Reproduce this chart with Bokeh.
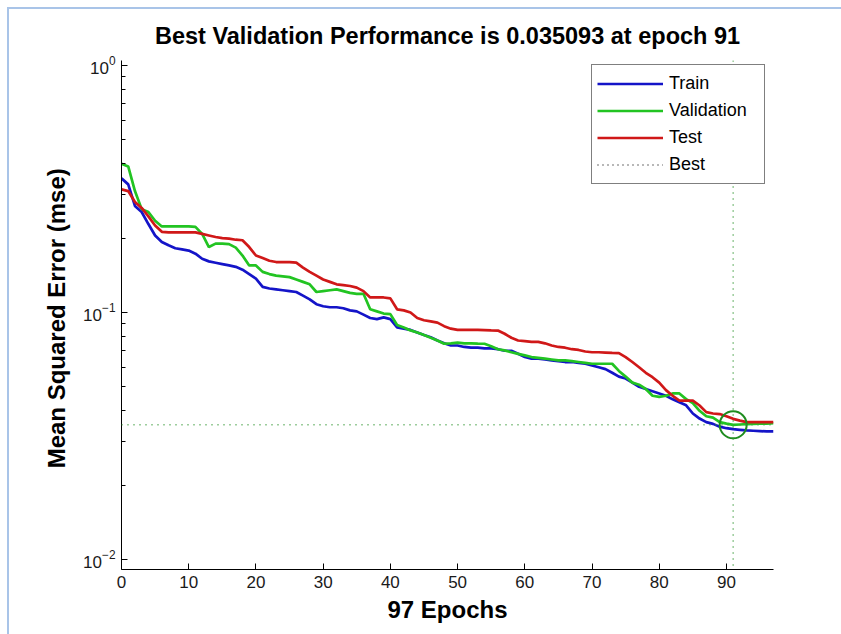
from bokeh.plotting import figure
from bokeh.models import (Range1d, FixedTicker, LogTickFormatter, Span, Legend,
                          LegendItem, InlineStyleSheet)
from bokeh.embed import file_html
from bokeh.resources import INLINE

# ---------------- data ----------------
epochs = list(range(98))
train = [0.349, 0.33, 0.27, 0.255, 0.228, 0.205, 0.193, 0.187, 0.182, 0.180,
         0.178, 0.173, 0.165, 0.161, 0.159, 0.157, 0.155, 0.153, 0.149, 0.143,
         0.137, 0.127, 0.125, 0.124, 0.123, 0.122, 0.121, 0.117, 0.113, 0.108,
         0.106, 0.105, 0.105, 0.104, 0.102, 0.101, 0.098, 0.095, 0.094, 0.0955,
         0.094, 0.087, 0.086, 0.085, 0.083, 0.081, 0.0794, 0.077, 0.075, 0.0735,
         0.0735, 0.0725, 0.072, 0.072, 0.0715, 0.0715, 0.071, 0.070, 0.070, 0.068,
         0.066, 0.065, 0.065, 0.0645, 0.064, 0.0635, 0.063, 0.063, 0.0625, 0.062,
         0.061, 0.060, 0.059, 0.057, 0.055, 0.054, 0.052, 0.050, 0.049, 0.048,
         0.047, 0.046, 0.0445, 0.0433, 0.0421, 0.039, 0.0372, 0.036, 0.0354, 0.0345,
         0.034, 0.0337, 0.0335, 0.0333, 0.0332, 0.0331, 0.033, 0.033]
validation = [0.40, 0.39, 0.31, 0.262, 0.255, 0.235, 0.223, 0.223, 0.223, 0.223,
              0.223, 0.222, 0.208, 0.184, 0.190, 0.190, 0.189, 0.183, 0.170, 0.155,
              0.155, 0.146, 0.143, 0.141, 0.140, 0.139, 0.136, 0.133, 0.130, 0.121,
              0.122, 0.123, 0.124, 0.122, 0.120, 0.119, 0.119, 0.103, 0.101, 0.099,
              0.0985, 0.089, 0.087, 0.0846, 0.083, 0.081, 0.079, 0.077, 0.0747, 0.075,
              0.0755, 0.075, 0.075, 0.0748, 0.0747, 0.073, 0.071, 0.0702, 0.069, 0.068,
              0.067, 0.066, 0.0655, 0.065, 0.0645, 0.064, 0.064, 0.0635, 0.063, 0.0625,
              0.062, 0.062, 0.062, 0.062, 0.058, 0.055, 0.052, 0.051, 0.049, 0.046,
              0.0455, 0.046, 0.047, 0.047, 0.0446, 0.043, 0.040, 0.038, 0.0375, 0.036,
              0.0355, 0.035093, 0.0352, 0.0353, 0.0354, 0.0355, 0.0355, 0.0356]
test = [0.315, 0.31, 0.28, 0.265, 0.245, 0.225, 0.212, 0.211, 0.211, 0.211,
        0.211, 0.211, 0.208, 0.205, 0.202, 0.200, 0.199, 0.197, 0.196, 0.184,
        0.170, 0.166, 0.162, 0.160, 0.160, 0.160, 0.159, 0.152, 0.146, 0.141,
        0.136, 0.133, 0.130, 0.129, 0.128, 0.126, 0.122, 0.115, 0.115, 0.115,
        0.114, 0.103, 0.102, 0.100, 0.095, 0.093, 0.092, 0.091, 0.088, 0.086,
        0.085, 0.085, 0.085, 0.085, 0.0848, 0.0846, 0.0845, 0.082, 0.079, 0.077,
        0.0765, 0.076, 0.076, 0.075, 0.0735, 0.0725, 0.072, 0.071, 0.0705, 0.0695,
        0.069, 0.069, 0.0688, 0.0686, 0.0685, 0.066, 0.063, 0.060, 0.057, 0.0547,
        0.052, 0.0485, 0.046, 0.044, 0.044, 0.044, 0.042, 0.0395, 0.039, 0.0388,
        0.038, 0.0371, 0.0365, 0.036, 0.036, 0.036, 0.036, 0.036]
best_epoch = 91
best_perf = 0.035093
x_ticks = [0, 10, 20, 30, 40, 50, 60, 70, 80, 90]
y_ticks = [0.01, 0.1, 1.0]
y_minor = [m * d for d in (0.01, 0.1) for m in range(2, 10)]
title_text = "Best Validation Performance is 0.035093 at epoch 91"
x_label = "97 Epochs"
y_label = "Mean Squared Error  (mse)"

FONT = "Liberation Sans"

p = figure(width=841, height=634, y_axis_type="log",
           x_range=Range1d(0, 97), y_range=Range1d(0.00911, 1.047),
           output_backend="svg", toolbar_location=None,
           min_border_left=121, min_border_right=68,
           min_border_top=60, min_border_bottom=65)

p.stylesheets = [InlineStyleSheet(css="""
:host {
  background-color: white;
  background-image: linear-gradient(#a9c4e8, #a9c4e8), linear-gradient(#a9c4e8, #a9c4e8);
  background-size: 2px 100%, 100% 2px;
  background-position: 7px 7px, 7px 7px;
  background-repeat: no-repeat;
}
""")]
p.border_fill_color = None
p.background_fill_color = "white"
p.outline_line_color = None
p.grid.visible = False

p.title.text = title_text
p.title.align = "center"
p.title.text_font = FONT
p.title.text_font_style = "bold"
p.title.text_font_size = "23.5px"
p.title.text_color = "black"
p.title.standoff = 24

# axes
p.xaxis.ticker = FixedTicker(ticks=x_ticks)
p.yaxis.ticker = FixedTicker(ticks=y_ticks, minor_ticks=y_minor)
p.yaxis.formatter = LogTickFormatter()
for ax in (p.xaxis[0], p.yaxis[0]):
    ax.axis_line_color = "black"
    ax.major_tick_line_color = "black"
    ax.minor_tick_line_color = "black"
    ax.major_tick_in = 6
    ax.major_tick_out = 0
    ax.minor_tick_in = 4
    ax.minor_tick_out = 0
    ax.major_label_text_font = FONT
    ax.major_label_text_font_size = "17px"
    ax.major_label_text_color = "#1a1a1a"
    ax.axis_label_text_font = FONT
    ax.axis_label_text_font_style = "bold"
    ax.axis_label_text_font_size = "24px"
    ax.axis_label_text_color = "black"
    ax.major_label_standoff = 6
p.xaxis.axis_label = x_label
p.yaxis.axis_label = y_label
p.xaxis.axis_label_standoff = 5
p.yaxis.axis_label_standoff = 10

# lines
lw = 2.7
r_train = p.line(epochs, train, line_color="#1414c8", line_width=lw)
r_val = p.line(epochs, validation, line_color="#22c422", line_width=lw)
r_test = p.line(epochs, test, line_color="#d01818", line_width=lw)

best_color = "#3a9a3a"
p.add_layout(Span(location=best_perf, dimension="width", line_color=best_color,
                  line_dash="1 5", line_width=1.5))
p.add_layout(Span(location=best_epoch, dimension="height", line_color=best_color,
                  line_dash="1 5", line_width=1.5))
p.scatter([best_epoch], [best_perf], marker="circle", size=27, fill_color=None,
          line_color="#1e8c1e", line_width=2)
# single-point line: invisible in the plot, provides the dotted legend glyph
r_best = p.line([best_epoch], [best_perf], line_color="#444444",
                line_dash="1 4", line_width=1.5)

legend = Legend(items=[LegendItem(label="Train", renderers=[r_train]),
                       LegendItem(label="Validation", renderers=[r_val]),
                       LegendItem(label="Test", renderers=[r_test]),
                       LegendItem(label="Best", renderers=[r_best])],
                location=(470, 385))
legend.border_line_color = "black"
legend.border_line_width = 1
legend.background_fill_color = "white"
legend.background_fill_alpha = 1
legend.label_text_font = FONT
legend.label_text_font_size = "18px"
legend.label_text_color = "black"
legend.glyph_width = 66
legend.glyph_height = 27
legend.label_height = 27
legend.label_width = 90
legend.label_standoff = 6
legend.spacing = 0
legend.padding = 5
legend.margin = 0
p.add_layout(legend)

open("out.html", "w").write(file_html(p, INLINE))
